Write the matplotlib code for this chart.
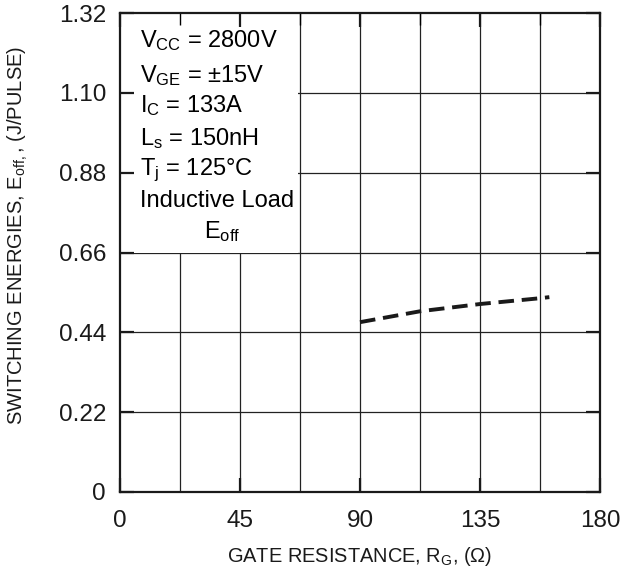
import matplotlib
matplotlib.use("Agg")
import matplotlib.pyplot as plt
import numpy as np
from matplotlib.patches import Rectangle

plt.rcParams["font.family"] = ["Liberation Sans", "DejaVu Sans"]
plt.rcParams["mathtext.default"] = "regular"

# Eoff vs gate resistance
rg = [90, 112.5, 135, 157.5, 161]
eoff = [0.468, 0.498, 0.518, 0.534, 0.537]

x_ticks = [0, 45, 90, 135, 180]
y_ticks = [0, 0.22, 0.44, 0.66, 0.88, 1.10, 1.32]
y_tick_labels = ["0", "0.22", "0.44", "0.66", "0.88", "1.10", "1.32"]
x_grid = np.arange(0, 181, 22.5)

cond_lines = [r"$V_{CC}$ = 2800V", r"$V_{GE}$ = ±15V", r"$I_C$ = 133A",
              r"$L_s$ = 150nH", r"$T_j$ = 125°C", "Inductive Load"]
cond_y = [1.227, 1.130, 1.048, 0.956, 0.873, 0.785]

fig = plt.figure(figsize=(6.21, 5.71), dpi=100)
ax = fig.add_axes([120 / 621, 1 - 492 / 571, 480 / 621, 479 / 571])

ax.set_xlim(0, 180)
ax.set_ylim(0, 1.32)

for xv in x_grid[1:-1]:
    ax.axvline(xv, color="#222222", lw=0.9, zorder=0.8)
for yv in y_ticks[1:-1]:
    ax.axhline(yv, color="#222222", lw=0.9, zorder=0.8)

# white box behind the conditions text
ax.add_patch(Rectangle((0, 0.66), 66.9, 0.66, facecolor="white",
                       edgecolor="none", zorder=1))

ax.plot(rg, eoff, color="#1a1a1a", lw=2.8, dashes=(4, 2), zorder=3)

for s, yv in zip(cond_lines, cond_y):
    ax.text(7.5, yv, s, fontsize=17, va="baseline", ha="left", zorder=4)
ax.text(38.3, 0.699, r"$E_{off}$", fontsize=17, va="baseline", ha="center", zorder=4)

ax.set_xticks(x_ticks)
ax.set_xticks(x_grid, minor=True)
ax.set_yticks(y_ticks)
ax.set_yticklabels(y_tick_labels)
ax.tick_params(which="major", direction="in", length=10, width=1.6,
               top=True, right=True, labelsize=17.5, colors="#1a1a1a")
ax.tick_params(axis="x", which="major", pad=13)
ax.tick_params(axis="y", which="major", pad=10)
ax.tick_params(which="minor", direction="in", length=8.5, width=1.0,
               top=True, bottom=False, left=False, right=False)
for sp in ax.spines.values():
    sp.set_linewidth(1.6)
    sp.set_color("#1a1a1a")

ax.set_xlabel(r"GATE RESISTANCE, $R_G$, (Ω)", fontsize=14.4, color="#1a1a1a")
ax.xaxis.set_label_coords(0.5, -0.11)
ax.set_ylabel(r"SWITCHING ENERGIES, $E_{off,}$, (J/PULSE)", fontsize=14.5, color="#1a1a1a")
ax.yaxis.set_label_coords(-0.187, 0.535)

fig.savefig("out.png", dpi=100)
